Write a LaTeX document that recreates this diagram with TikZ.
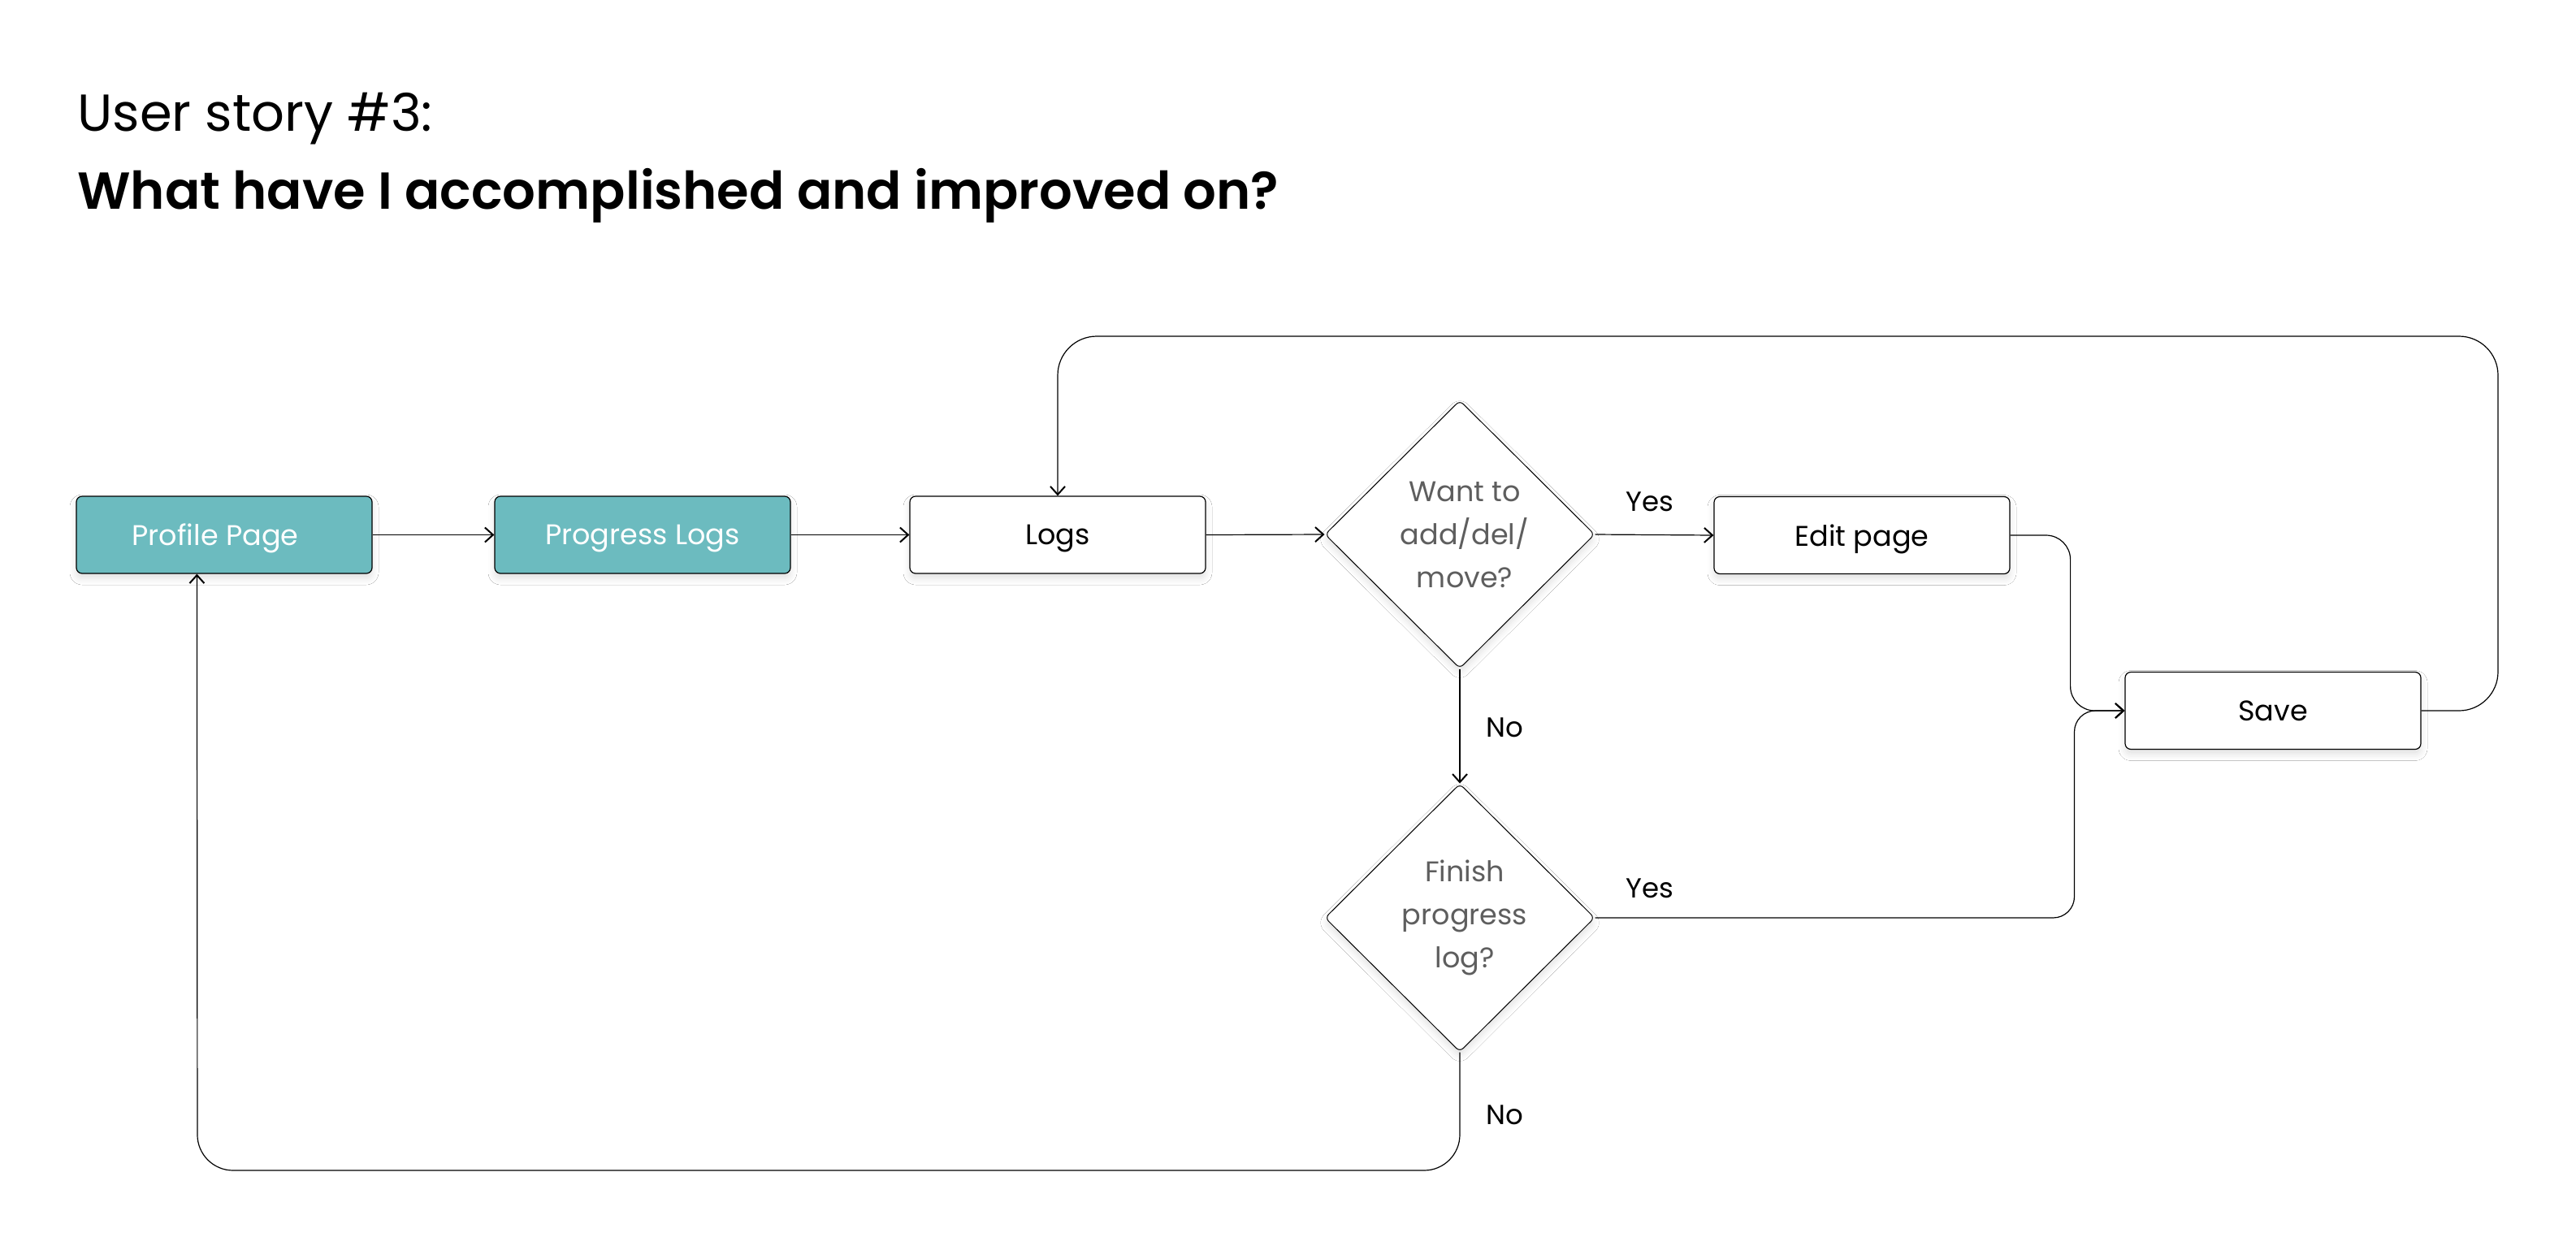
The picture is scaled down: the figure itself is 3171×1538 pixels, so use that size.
\documentclass[tikz,border=0pt]{standalone}
\usepackage{fontspec}
\setmainfont{Poppins}[BoldFont={Poppins SemiBold}]
\usetikzlibrary{arrows.meta,shapes.geometric,shadows.blur,calc}
\definecolor{teal1}{HTML}{6CBBBF}
\definecolor{dtext}{HTML}{5E5E5E}
\newcommand{\sh}{\hspace*{6pt}}
\begin{document}
\begin{tikzpicture}[x=0.5pt,y=-0.5pt,
  softshadow/.style={blur shadow={shadow xshift=0pt, shadow yshift=-3pt, shadow blur radius=4pt, shadow opacity=12}},
  box/.style={draw=black, line width=0.6pt, rounded corners=3.5pt, minimum width=182pt, minimum height=47.5pt, inner sep=0pt, text depth=0pt, font=\fontsize{17.5}{26.5}\selectfont, softshadow},
  tealbox/.style={box, fill=teal1, text=white},
  whitebox/.style={box, fill=white, text=black},
  decision/.style={diamond, draw=black, line width=0.5pt, fill=white, minimum width=166pt, minimum height=165pt, inner sep=0pt, rounded corners=3pt, align=center, text=dtext, font=\fontsize{17.5}{26.5}\selectfont, softshadow},
  conn/.style={draw=black, line width=0.6pt, -{Straight Barb[length=5pt,width=9pt,line width=1pt]}},
  lbl/.style={font=\fontsize{17}{20}\selectfont, text=black, inner sep=0pt},
  ttl/.style={anchor=base west, inner sep=0pt, font=\fontsize{32}{40}\selectfont}
]
\fill[white] (0,0) rectangle (3171,1538);
\useasboundingbox (0,0) rectangle (3171,1538);

\node[ttl] (t1) at (95,161) {User story \#3:};
\node[ttl, font=\fontsize{32}{40}\selectfont\bfseries] (t2) at (95,257) {What have I accomplished and improved on?};

\node[tealbox] (profile) at (276,658.5) {Profile Page\hspace*{11pt}};
\node[tealbox] (progress) at (791,658.5) {Progress Logs};
\node[whitebox] (logs) at (1302,658.5) {Logs};
\node[decision] (d1) at (1797,658) {\sh Want to\\\sh add/del/\\\sh move?};
\node[whitebox] (edit) at (2292,659) {Edit page};
\node[whitebox] (save) at (2798,875) {Save};
\node[decision] (d2) at (1797,1130) {\sh Finish\\\sh progress\\\sh log?};

\path (profile.south west) ++(149,0) coordinate (pin);

\draw[conn] (profile.east) -- (progress.west);
\draw[conn] (progress.east) -- (logs.west);
\draw[conn] (logs.east) -- (d1.west);
\draw[conn] (d1.east) -- (edit.west);
\draw[conn] (d1.south) -- (d2.north);
\draw[conn, rounded corners=15pt] (edit.east) -- ++(74,0) |- (save.west);
\draw[conn, rounded corners=13pt] (d2.east) -- ++(590,0) |- (save.west);
\draw[conn, rounded corners=24pt] (save.east) -| (3075,414) -| (logs.north);
\draw[conn, rounded corners=22pt] (d2.south) |- (243,1441) -- (pin);

\node[lbl] (yes1) at (2031,618) {Yes};
\node[lbl] (no1) at (1852,896) {No};
\node[lbl] (yes2) at (2031,1094) {Yes};
\node[lbl] (no2) at (1852,1373) {No};
\end{tikzpicture}
\end{document}
